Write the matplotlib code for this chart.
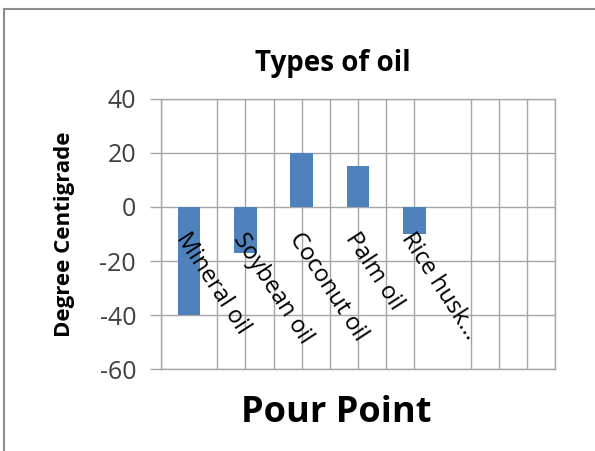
import matplotlib
matplotlib.use("Agg")
import matplotlib.pyplot as plt
from matplotlib.lines import Line2D

# data (pour point, degC)
categories = ["Mineral oil", "Soybean oil", "Coconut oil", "Palm oil", "Rice husk...", "", ""]
values = [-40, -17, 20, 15, -10]
yticks = [-60, -40, -20, 0, 20, 40]

plt.rcParams["font.family"] = ["Open Sans", "DejaVu Sans"]

BAR = "#4F81BD"
GRID = "#a6a6a6"

fig = plt.figure(figsize=(5.95, 4.51), dpi=100)
ax = fig.add_axes([0.2706, 0.1818, 0.6622, 0.5987])

n = len(categories)
ax.bar(range(len(values)), values, width=0.4, color=BAR, zorder=3)

ax.set_xlim(-0.5, n - 0.5)
ax.set_ylim(yticks[0], yticks[-1])
ax.set_yticks(yticks)
ax.set_yticklabels([str(v) for v in yticks], fontsize=18, color="#404040")
ax.tick_params(axis="y", length=8, width=1, color=GRID, pad=10)

# vertical gridlines as they appear in the reference
vgrid = [-0.5, 0.5, 1, 1.5, 2, 2.5, 3, 3.5, 4, 5, 5.5, 6, 6.5]
ax.set_xticks(vgrid)
ax.set_xticklabels([])
ax.tick_params(axis="x", length=0)
ax.grid(True, color=GRID, linewidth=1, zorder=0)
for s in ax.spines.values():
    s.set_color(GRID)
    s.set_linewidth(1)

# category labels hang below the zero line
for i, lab in enumerate(categories):
    if lab:
        ax.text(i + 0.04, -8.0, lab, rotation=-57, rotation_mode="anchor",
                ha="left", va="top", fontsize=17, color="black", zorder=4)

# title / axis titles placed on the chart area like the Excel original
fig.text(0.56, 0.860, "Types of oil", fontsize=20, fontweight="bold",
         ha="center", va="center")
fig.text(0.108, 0.481, "Degree Centigrade", fontsize=16, fontweight="bold",
         rotation=90, ha="center", va="center")
fig.text(0.565, 0.084, "Pour Point", fontsize=26, fontweight="bold",
         ha="center", va="center")

# outer chart border (top and left visible)
fig.add_artist(Line2D([4 / 595, 1], [1 - 9 / 451, 1 - 9 / 451],
                      transform=fig.transFigure, color="#8c8c8c", lw=1.5))
fig.add_artist(Line2D([4 / 595, 4 / 595], [0, 1 - 9 / 451],
                      transform=fig.transFigure, color="#8c8c8c", lw=1.5))

fig.savefig("out.png", dpi=100)
